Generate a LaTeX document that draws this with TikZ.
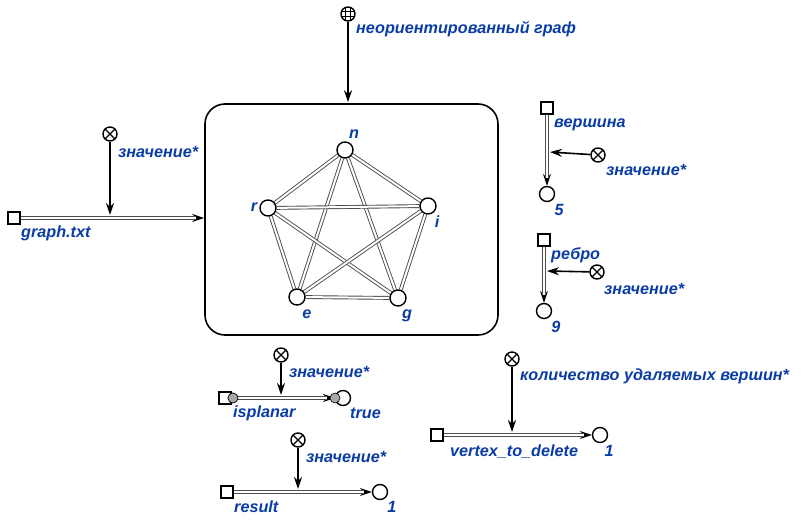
\documentclass[tikz,border=0pt]{standalone}
\usepackage{fontspec}
\setmainfont{Liberation Sans}
\usetikzlibrary{arrows.meta, positioning, calc, backgrounds}
\definecolor{labelblue}{HTML}{0A3CA5}
\definecolor{dotgrey}{HTML}{A8A8A8}

\begin{document}
\begin{tikzpicture}[
    x=1pt, y=-1pt,
    >={Stealth[length=12pt, width=8pt, inset=4pt]},
    line width=1.4pt,
    % styles for pins, boxes and labels
    srcbox/.style={rectangle, draw, fill=white, minimum size=12pt, inner sep=0pt},
    endpin/.style={circle, draw, fill=white, minimum size=15pt, inner sep=0pt},
    vert/.style={circle, draw, fill=white, minimum size=16pt, inner sep=0pt},
    dot/.style={circle, draw, line width=0.6pt, fill=dotgrey, minimum size=10pt, inner sep=0pt},
    valpin/.style={circle, draw, fill=white, minimum size=14pt, inner sep=0pt,
        path picture={
            \draw[line width=1.2pt] (path picture bounding box.north west) -- (path picture bounding box.south east)
                (path picture bounding box.north east) -- (path picture bounding box.south west);}},
    gridpin/.style={circle, draw, fill=white, minimum size=14pt, inner sep=0pt,
        path picture={
            \draw[line width=0.9pt]
                ([xshift=-2.3pt]path picture bounding box.north) -- ([xshift=-2.3pt]path picture bounding box.south)
                ([xshift=2.3pt]path picture bounding box.north) -- ([xshift=2.3pt]path picture bounding box.south)
                ([yshift=-2.3pt]path picture bounding box.west) -- ([yshift=-2.3pt]path picture bounding box.east)
                ([yshift=2.3pt]path picture bounding box.west) -- ([yshift=2.3pt]path picture bounding box.east);}},
    dline/.style={draw=black!70, line width=0.9pt, double=white, double distance=2pt},
    flowtip/.style={->, line width=1.2pt},
    valarrow/.style={->, line width=1.6pt, shorten >=1pt},
    lbl/.style={text=labelblue, font=\fontsize{16.2}{18}\selectfont\bfseries\itshape, inner sep=0.5pt}
]
    \useasboundingbox (0,0) rectangle (804,526);

    % --- MODEL BOX ---
    \node (model) [draw, rounded corners=20pt, line width=1.6pt, minimum width=293pt, minimum height=231pt] at (351.5,219.5) {};
    \node (graphpin) [gridpin] at (348,14) {};
    \node (graphlbl) [lbl, anchor=west] at ($(graphpin)+(7,15)$) {неориентированный граф};
    \draw[valarrow] (graphpin) -- (graphpin |- model.north);

    % --- GRAPH ---
    \node (n) [vert] at (345,150) {};
    \node (r) [vert] at (268,208) {};
    \node (i) [vert] at (428,206) {};
    \node (e) [vert] at (297,297) {};
    \node (g) [vert] at (398,298) {};
    \begin{scope}[on background layer]
        \foreach \a/\b in {n/r, n/i, n/e, n/g, r/i, r/e, r/g, i/e, i/g, e/g}
            \draw[dline] (\a) -- (\b);
    \end{scope}
    \node (nlbl) [lbl] at ($(n)+(9,-16)$) {n};
    \node (rlbl) [lbl] at ($(r)+(-14,-1)$) {r};
    \node (ilbl) [lbl] at ($(i)+(9,16)$) {i};
    \node (elbl) [lbl] at ($(e)+(10,17)$) {e};
    \node (glbl) [lbl] at ($(g)+(9,18)$) {g};

    % --- SOURCES, SINKS AND PINS ---
    \node (gtsrc) [srcbox] at (14,218) {};
    \coordinate (gtend) at (gtsrc -| model.west);
    \node (gtpin) [valpin] at (110,134) {};
    \coordinate (gtjoin) at (110,216);

    \node (vsrc) [srcbox] at (547,108) {};
    \node (vsink) [endpin] at (547,194) {};
    \node (vpin) [valpin] at (598,155) {};
    \coordinate (vjoin) at (549,152);

    \node (esrc) [srcbox] at (544,240) {};
    \node (esink) [endpin] at (544,311) {};
    \node (epin) [valpin] at (597,272) {};
    \coordinate (ejoin) at (546,271);

    \node (psrc) [srcbox] at (225,398) {};
    \node (psink) [endpin] at (343,398) {};
    \node (pstart) [dot] at (233,398) {};
    \coordinate (pend) at (335,398);
    \node (ppin) [valpin] at (281,355) {};
    \coordinate (pjoin) at (281,396);

    \node (rsrc) [srcbox] at (227,492) {};
    \node (rsink) [endpin] at (380,492) {};
    \node (rpin) [valpin] at (298,440) {};
    \coordinate (rjoin) at (298,490);

    \node (dsrc) [srcbox] at (437,435) {};
    \node (dsink) [endpin] at (600,435) {};
    \node (dpin) [valpin] at (512,359) {};
    \coordinate (djoin) at (512,433);

    % --- FLOWS (double lines) ---
    \foreach \a/\b in {gtsrc/gtend, vsrc/vsink, esrc/esink, pstart/pend, rsrc/rsink, dsrc/dsink} {
        \draw[flowtip] (\a) -- (\b);
        \draw[dline, shorten >=8pt] (\a) -- (\b);
    }
    \node (pendot) [dot] at (pend) {};
    \node[dot] at (pstart) {};

    % --- VALUE ARROWS ---
    \foreach \a/\b in {gtpin/gtjoin, vpin/vjoin, epin/ejoin, ppin/pjoin, rpin/rjoin, dpin/djoin}
        \draw[valarrow] (\a) -- (\b);

    % --- LABELS ---
    \node (gtlbl) [lbl, anchor=west] at ($(gtsrc)+(6,15)$) {graph.txt};
    \node (gtval) [lbl, anchor=west] at ($(gtpin)+(7,18)$) {значение*};

    \node (vlbl) [lbl, anchor=west] at ($(vsrc)+(6,17)$) {вершина};
    \node (vval) [lbl, anchor=west] at ($(vpin)+(7,15)$) {значение*};
    \node (vnum) [lbl] at ($(vsink)+(12,16)$) {5};

    \node (elbl2) [lbl, anchor=west] at ($(esrc)+(6,15)$) {ребро};
    \node (eval) [lbl, anchor=west] at ($(epin)+(6,17)$) {значение*};
    \node (enum) [lbl] at ($(esink)+(12,16)$) {9};

    \node (plbl) [lbl, anchor=west] at ($(psrc)+(7,15)$) {isplanar};
    \node (pres) [lbl, anchor=west] at ($(psink)+(6,15)$) {true};
    \node (pval) [lbl, anchor=west] at ($(ppin)+(7,17)$) {значение*};

    \node (rlbl2) [lbl, anchor=west] at ($(rsrc)+(6,15)$) {result};
    \node (rnum) [lbl] at ($(rsink)+(12,15)$) {1};
    \node (rval) [lbl, anchor=west] at ($(rpin)+(7,17)$) {значение*};

    \node (dlbl) [lbl, anchor=west] at ($(dsrc)+(12,17)$) {vertex\_to\_delete};
    \node (dnum) [lbl] at ($(dsink)+(9,16)$) {1};
    \node (dval) [lbl, anchor=west] at ($(dpin)+(7,17)$) {количество удаляемых вершин*};
\end{tikzpicture}
\end{document}
